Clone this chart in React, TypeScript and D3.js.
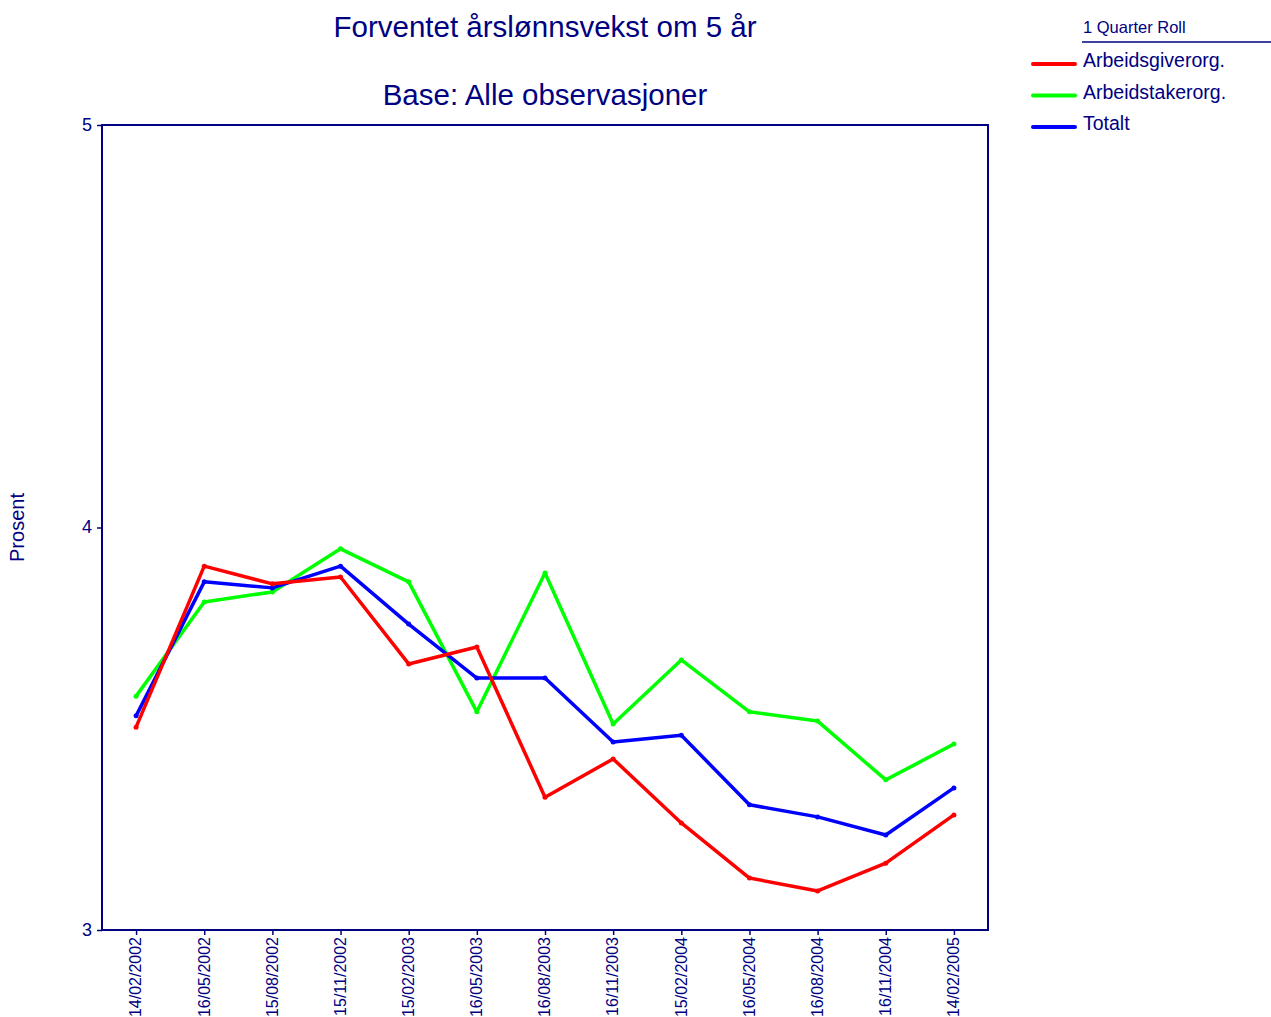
import React, { useEffect, useRef } from "react";
import * as d3 from "d3";

const dates = [
  "14/02/2002", "16/05/2002", "15/08/2002", "15/11/2002", "15/02/2003",
  "16/05/2003", "16/08/2003", "16/11/2003", "15/02/2004", "16/05/2004",
  "16/08/2004", "16/11/2004", "14/02/2005",
];
const arbeidsgiver = [3.504, 3.904, 3.86, 3.877, 3.661, 3.703, 3.33, 3.425, 3.266, 3.129, 3.097, 3.166, 3.286];
const arbeidstaker = [3.581, 3.815, 3.84, 3.947, 3.865, 3.542, 3.887, 3.512, 3.671, 3.542, 3.519, 3.373, 3.462];
const totalt = [3.532, 3.865, 3.85, 3.904, 3.76, 3.626, 3.626, 3.467, 3.484, 3.311, 3.281, 3.236, 3.353];
const yTicks = [3, 4, 5];

const series = [
  { name: "Arbeidsgiverorg.", color: "#ff0000", values: arbeidsgiver },
  { name: "Arbeidstakerorg.", color: "#00ff00", values: arbeidstaker },
  { name: "Totalt", color: "#0000ff", values: totalt },
];

const NAVY = "#000080";
const FONT = "'Liberation Sans', Arial, sans-serif";

export default function App() {
  const ref = useRef<SVGSVGElement>(null);

  useEffect(() => {
    const svg = d3.select(ref.current);
    svg.selectAll("*").remove();

    const left = 102, right = 988, top = 125, bottom = 930;

    const x = d3.scalePoint().domain(dates).range([left, right]).padding(0.5);
    const y = d3.scaleLinear().domain([3, 5]).range([bottom, top]);

    // titles
    svg.append("text")
      .attr("x", (left + right) / 2).attr("y", 37)
      .attr("text-anchor", "middle").style("font-size", "29.5px")
      .attr("fill", NAVY).style("font-family", FONT)
      .text("Forventet årslønnsvekst om 5 år");
    svg.append("text")
      .attr("x", (left + right) / 2).attr("y", 105)
      .attr("text-anchor", "middle").style("font-size", "29.5px")
      .attr("fill", NAVY).style("font-family", FONT)
      .text("Base: Alle observasjoner");

    // y axis
    const yAxis = svg.append("g")
      .attr("transform", `translate(${left},0)`)
      .call(d3.axisLeft(y).tickValues(yTicks).tickSize(5).tickSizeOuter(0).tickFormat(d3.format("d")));
    yAxis.select(".domain").remove();
    yAxis.selectAll("line").attr("stroke", NAVY).attr("stroke-width", 1.5);
    yAxis.selectAll("text")
      .attr("fill", NAVY).style("font-size", "18px").style("font-family", FONT)
      .attr("x", -10).attr("dy", "0.3em");

    // x axis
    const xAxis = svg.append("g")
      .attr("transform", `translate(0,${bottom})`)
      .call(d3.axisBottom(x).tickSize(5).tickSizeOuter(0));
    xAxis.select(".domain").remove();
    xAxis.selectAll("line").attr("stroke", NAVY).attr("stroke-width", 1.5);
    xAxis.selectAll("text")
      .attr("fill", NAVY).style("font-size", "16px").style("font-family", FONT)
      .attr("text-anchor", "end")
      .attr("transform", "rotate(-90)")
      .attr("x", -7).attr("y", 0).attr("dy", "0.3em");

    // frame
    svg.append("rect")
      .attr("x", left).attr("y", top)
      .attr("width", right - left).attr("height", bottom - top)
      .attr("fill", "none").attr("stroke", NAVY).attr("stroke-width", 2);

    svg.append("text")
      .attr("transform", `translate(24,${(top + bottom) / 2}) rotate(-90)`)
      .attr("text-anchor", "middle").style("font-size", "20px")
      .attr("fill", NAVY).style("font-family", FONT)
      .text("Prosent");

    const line = d3.line<number>()
      .x((_, i) => x(dates[i]) as number)
      .y((d) => y(d));

    // green, blue, red drawing order
    [series[1], series[2], series[0]].forEach((s) => {
      svg.append("path")
        .datum(s.values)
        .attr("d", line)
        .attr("fill", "none")
        .attr("stroke", s.color)
        .attr("stroke-width", 3.5)
        .attr("stroke-linejoin", "round");
      svg.selectAll(null)
        .data(s.values)
        .join("circle")
        .attr("cx", (_, i) => x(dates[i]) as number)
        .attr("cy", (d) => y(d))
        .attr("r", 2.5)
        .attr("fill", s.color);
    });

    // legend
    svg.append("text")
      .attr("x", 1083).attr("y", 33)
      .style("font-size", "16.5px").attr("fill", NAVY).style("font-family", FONT)
      .text("1 Quarter Roll");
    svg.append("line")
      .attr("x1", 1082).attr("x2", 1271).attr("y1", 42).attr("y2", 42)
      .attr("stroke", NAVY).attr("stroke-width", 1.5);

    const legend = svg.selectAll(".legend")
      .data(series)
      .join("g")
      .attr("class", "legend")
      .attr("transform", (_, i) => `translate(0,${64 + i * 31.5})`);
    legend.append("line")
      .attr("x1", 1033).attr("x2", 1075)
      .attr("stroke", (d) => d.color)
      .attr("stroke-width", 4)
      .attr("stroke-linecap", "round");
    legend.append("text")
      .attr("x", 1083).attr("y", 3)
      .style("font-size", "19.5px").attr("fill", NAVY).style("font-family", FONT)
      .text((d) => d.name);
  }, []);

  return (
    <svg
      ref={ref}
      width={1271}
      height={1017}
      style={{ position: "absolute", left: 0, top: 0, background: "#fff" }}
    />
  );
}
